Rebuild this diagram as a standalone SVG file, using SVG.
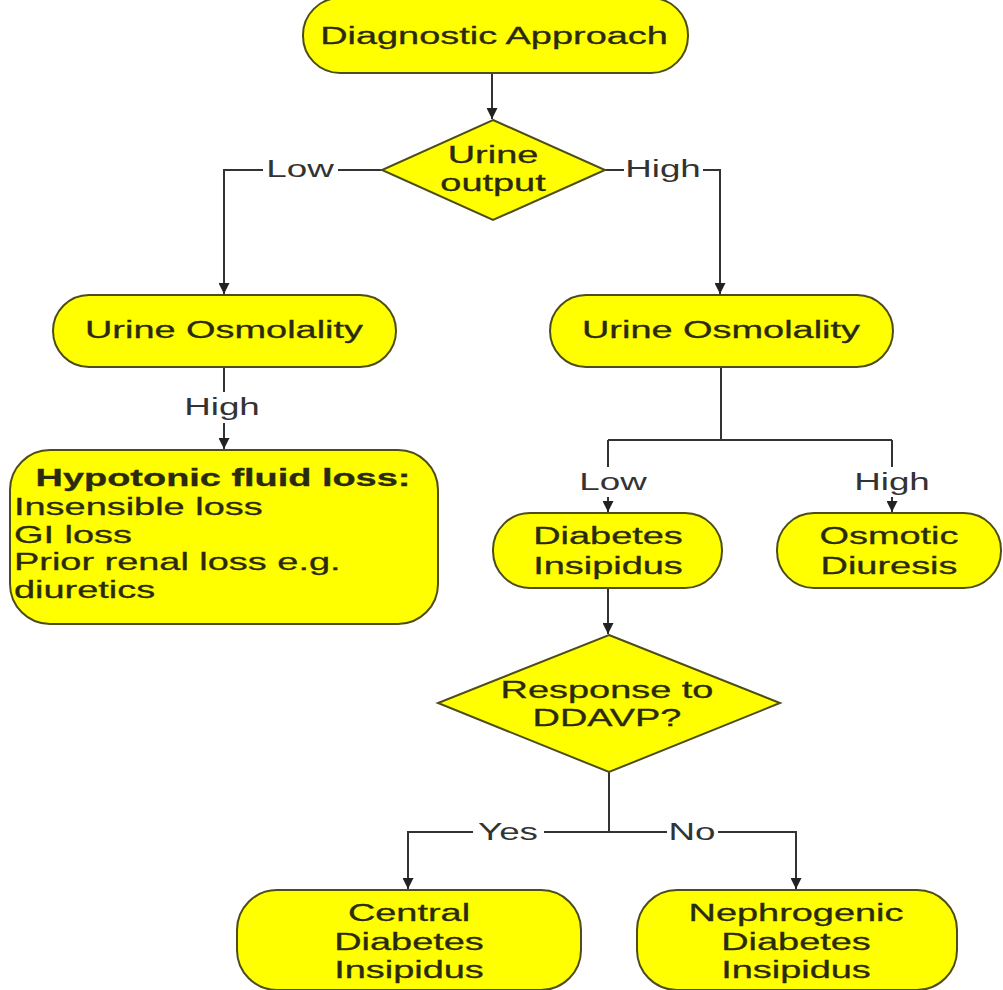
<svg xmlns="http://www.w3.org/2000/svg" width="1003" height="990" viewBox="0 0 1003 990">
<style>
.node{fill:#ffff00;stroke:#4d4d1a;stroke-width:2}
.t{font-family:"Liberation Sans",Arial,sans-serif;font-size:24px;fill:#2a2a10;stroke:#2a2a10;stroke-width:0.3;text-anchor:middle}
.s{text-anchor:start}
.b{font-weight:bold}
.lbl{font-family:"Liberation Sans",Arial,sans-serif;font-size:23px;fill:#333;text-anchor:middle}
.edge{fill:none;stroke:#333;stroke-width:2}
.arr{fill:none;stroke:#333;stroke-width:2;marker-end:url(#ah)}
</style>
<defs>
<marker id="ah" viewBox="0 0 10 10" refX="10" refY="5" markerWidth="11" markerHeight="11" markerUnits="userSpaceOnUse" orient="auto">
<path d="M0,0 L10,5 L0,10 z" fill="#222"/>
</marker>
</defs>
<rect width="1003" height="990" fill="#ffffff"/>
<g id="connectors">
<path class="arr" d="M492,73 V119"/>
<path class="edge" d="M383,170 H338 M263,170 H224 V250"/>
<path class="arr" d="M224,250 V294"/>
<path class="edge" d="M605,170 H624 M703,170 H720 V250"/>
<path class="arr" d="M720,250 V294"/>
<path class="edge" d="M224,367 V392"/>
<path class="arr" d="M224,423 V449"/>
<path class="edge" d="M721,367 V440 M608,440 H892 M608,440 V467 M892,440 V467"/>
<path class="arr" d="M608,497 V512"/>
<path class="arr" d="M892,497 V512"/>
<path class="arr" d="M608,588 V634"/>
<path class="edge" d="M609,772 V832 M473,832 H408 V860 M544,832 H667 M718,832 H796 V860"/>
<path class="arr" d="M408,860 V889"/>
<path class="arr" d="M796,860 V889"/>
<text class="lbl" transform="matrix(1.6,0,0,1,300,177)">Low</text>
<text class="lbl" transform="matrix(1.6,0,0,1,663,177)">High</text>
<text class="lbl" transform="matrix(1.6,0,0,1,222,415)">High</text>
<text class="lbl" transform="matrix(1.6,0,0,1,613,490)">Low</text>
<text class="lbl" transform="matrix(1.6,0,0,1,892,490)">High</text>
<text class="lbl" transform="matrix(1.6,0,0,1,508,840)">Yes</text>
<text class="lbl" transform="matrix(1.6,0,0,1,692,840)">No</text>
</g>
<g id="n-start">
<rect class="node" x="303" y="-2" width="385" height="75" rx="37" ry="37"/>
<text class="t" transform="matrix(1.58,0,0,1,494,44)">Diagnostic Approach</text>
</g>
<g id="n-urine-output">
<polygon class="node" points="493,120 605,170 493,220 382,170"/>
<text class="t" transform="matrix(1.58,0,0,1,493,163)">Urine</text>
<text class="t" transform="matrix(1.58,0,0,1,493,191)">output</text>
</g>
<g id="n-osm-left">
<rect class="node" x="53" y="295" width="343" height="72" rx="36" ry="36"/>
<text class="t" transform="matrix(1.58,0,0,1,224,338)">Urine Osmolality</text>
</g>
<g id="n-osm-right">
<rect class="node" x="550" y="295" width="343" height="72" rx="36" ry="36"/>
<text class="t" transform="matrix(1.58,0,0,1,721,338)">Urine Osmolality</text>
</g>
<g id="n-hypotonic">
<rect class="node" x="10" y="450" width="428" height="174" rx="40" ry="40"/>
<text class="t b" transform="matrix(1.58,0,0,1,223,486)">Hypotonic fluid loss:</text>
<text class="t s" transform="matrix(1.58,0,0,1,14,515)">Insensible loss</text>
<text class="t s" transform="matrix(1.58,0,0,1,14,543)">GI loss</text>
<text class="t s" transform="matrix(1.58,0,0,1,14,570)">Prior renal loss e.g.</text>
<text class="t s" transform="matrix(1.58,0,0,1,14,598)">diuretics</text>
</g>
<g id="n-di">
<rect class="node" x="493" y="513" width="229" height="75" rx="37" ry="37"/>
<text class="t" transform="matrix(1.58,0,0,1,608,544)">Diabetes</text>
<text class="t" transform="matrix(1.58,0,0,1,608,574)">Insipidus</text>
</g>
<g id="n-osmotic">
<rect class="node" x="777" y="513" width="224" height="75" rx="37" ry="37"/>
<text class="t" transform="matrix(1.58,0,0,1,889,544)">Osmotic</text>
<text class="t" transform="matrix(1.58,0,0,1,889,574)">Diuresis</text>
</g>
<g id="n-ddavp">
<polygon class="node" points="609,635 780,703 609,772 438,703"/>
<text class="t" transform="matrix(1.58,0,0,1,607,698)">Response to</text>
<text class="t" transform="matrix(1.58,0,0,1,607,726)">DDAVP?</text>
</g>
<g id="n-central">
<rect class="node" x="237" y="890" width="344" height="100" rx="40" ry="40"/>
<text class="t" transform="matrix(1.58,0,0,1,409,921)">Central</text>
<text class="t" transform="matrix(1.58,0,0,1,409,950)">Diabetes</text>
<text class="t" transform="matrix(1.58,0,0,1,409,978)">Insipidus</text>
</g>
<g id="n-nephro">
<rect class="node" x="637" y="890" width="320" height="100" rx="40" ry="40"/>
<text class="t" transform="matrix(1.58,0,0,1,796,921)">Nephrogenic</text>
<text class="t" transform="matrix(1.58,0,0,1,796,950)">Diabetes</text>
<text class="t" transform="matrix(1.58,0,0,1,796,978)">Insipidus</text>
</g>
</svg>
